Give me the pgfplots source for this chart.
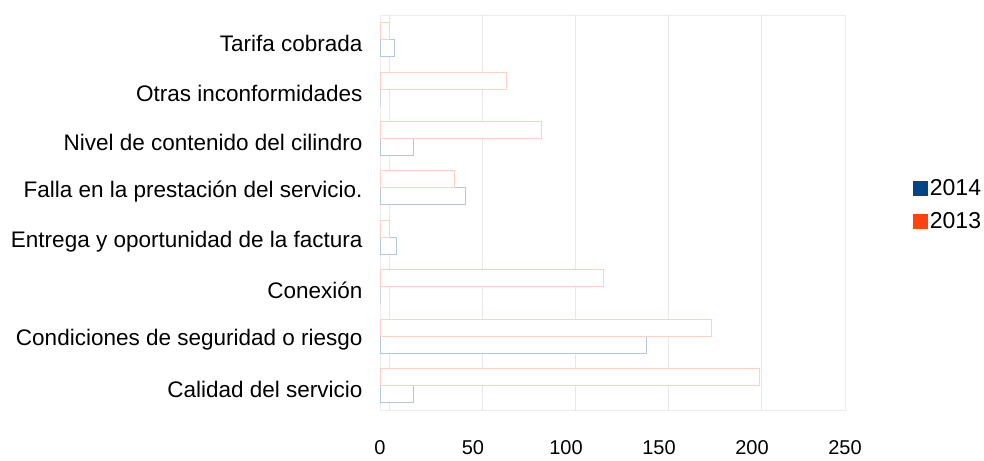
\documentclass[border=0pt]{standalone}
\usepackage{fontspec}
\setmainfont{Liberation Sans}
\usepackage{pgfplots}
\pgfplotsset{compat=1.18}
\definecolor{c2014}{HTML}{004586}
\definecolor{c2013}{HTML}{FF420E}
\begin{document}
\begin{tikzpicture}
\path (0pt,0pt) rectangle (984pt,460pt);
\begin{axis}[
  at={(380pt,50pt)}, anchor=south west,
  scale only axis, width=465pt, height=395pt,
  xbar, bar width=17pt,
  xmin=0, xmax=250,
  ymin=-0.5, ymax=7.5,
  ytick={0,...,7},
  yticklabels={Calidad del servicio, Condiciones de seguridad o riesgo, Conexión\ , Entrega y oportunidad de la factura, Falla en la prestación del servicio., Nivel de contenido del cilindro, Otras inconformidades, Tarifa cobrada},
  xtick={0,50,...,250},
  extra x ticks={5,55,105,155,205},
  extra x tick labels={},
  extra tick style={grid=major, major grid style={gray!18, line width=1pt}},
  major tick length=0pt,
  axis line style={gray!15},
  xticklabel style={font=\fontsize{20}{22}\selectfont, yshift=-27pt},
  yticklabel style={font=\fontsize{22.5}{24}\selectfont, xshift=-14pt, yshift=-4pt},
  /pgf/number format/assume math mode=true,
  legend style={at={(1.146,0.519)}, anchor=west, draw=none, fill=none,
    font=\fontsize{23}{25}\selectfont, row sep=11pt, inner sep=0pt,
    /tikz/every even column/.append style={column sep=3pt}},
  legend cell align=left,
]
\addplot[draw=c2014!30, fill=white, bar shift=-8.5pt, line width=0.8pt,
  legend image code/.code={\fill[c2014] (0pt,-7pt) rectangle (14pt,7pt);}]
  coordinates {(18,0) (143,1) (0,2) (9,3) (46,4) (18,5) (0,6) (8,7)};
\addlegendentry{2014}
\addplot[draw=c2013!25, fill=white, bar shift=8.5pt, line width=0.8pt,
  legend image code/.code={\fill[c2013] (0pt,-7pt) rectangle (14pt,7pt);}]
  coordinates {(204,0) (178,1) (120,2) (5,3) (40,4) (87,5) (68,6) (5,7)};
\addlegendentry{2013}
\end{axis}
\end{tikzpicture}
\end{document}
